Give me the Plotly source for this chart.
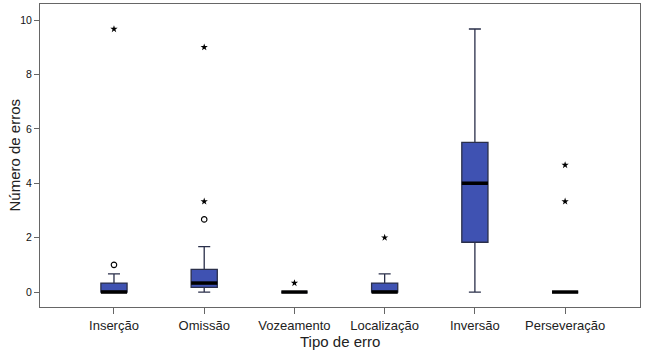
import plotly.graph_objects as go

categories = ["Inserção", "Omissão", "Vozeamento", "Localização", "Inversão", "Perseveração"]
lower_whisker = [0, 0, 0, 0, 0, 0]
q1 = [0, 0.17, 0, 0, 1.83, 0]
median = [0, 0.33, 0, 0, 4.0, 0]
q3 = [0.33, 0.83, 0, 0.33, 5.5, 0]
upper_whisker = [0.67, 1.67, 0, 0.67, 9.67, 0]
# mild outliers (circles) and extreme outliers (stars)
circle_outliers = [[1.0], [2.67], [], [], [], []]
star_outliers = [[9.67], [3.33, 9.0], [0.33], [2.0], [], [3.33, 4.67]]
y_ticks = [0, 2, 4, 6, 8, 10]

BOX_W = 0.29
fill = "#3f52b2"

fig = go.Figure()
xs = list(range(len(categories)))
fig.add_trace(go.Box(
    x=xs, q1=q1, median=median, q3=q3,
    lowerfence=lower_whisker, upperfence=upper_whisker,
    width=BOX_W, whiskerwidth=0.46,
    fillcolor=fill, line=dict(color="#2a2f4a", width=1.3),
    boxpoints=False, showlegend=False, hoverinfo="skip",
))

# thick median lines
mx, my = [], []
for i, m in enumerate(median):
    mx += [i - BOX_W / 2, i + BOX_W / 2, None]
    my += [m, m, None]
fig.add_trace(go.Scatter(x=mx, y=my, mode="lines",
                         line=dict(color="black", width=3.5),
                         showlegend=False, hoverinfo="skip"))

cx, cy, sx, sy = [], [], [], []
for i in xs:
    for v in circle_outliers[i]:
        cx.append(i); cy.append(v)
    for v in star_outliers[i]:
        sx.append(i); sy.append(v)
fig.add_trace(go.Scatter(x=cx, y=cy, mode="markers",
                         marker=dict(symbol="circle-open", size=5.5, color="black",
                                     line=dict(width=1.1)),
                         showlegend=False))
fig.add_trace(go.Scatter(x=sx, y=sy, mode="markers",
                         marker=dict(symbol="star", size=5.5, color="black",
                                     line=dict(width=0)),
                         showlegend=False))

font = "Liberation Sans, Arial, sans-serif"
fig.update_layout(
    width=646, height=353,
    margin=dict(l=40, r=6, t=4, b=46),
    paper_bgcolor="white", plot_bgcolor="white",
    font=dict(family=font, color="#222222", size=12),
    xaxis=dict(
        range=[-0.82, 5.83], tickvals=xs, ticktext=categories,
        showline=True, mirror=True, linecolor="#666666", linewidth=1,
        ticks="outside", ticklen=6, tickcolor="#666666",
        showgrid=False, zeroline=False,
        tickfont=dict(size=13),
        automargin=False,
    ),
    yaxis=dict(
        range=[-0.55, 10.59], tickvals=y_ticks,
        showline=True, mirror=True, linecolor="#666666", linewidth=1,
        ticks="outside", ticklen=5, tickcolor="#666666",
        showgrid=False, zeroline=False,
        tickfont=dict(size=10.5, color="#111111"),
        automargin=False,
    ),
    annotations=[
        dict(text="Tipo de erro", x=0.5, xref="paper",
             y=-(341 - 307) / (307 - 4), yref="paper", yanchor="middle",
             showarrow=False, font=dict(size=15)),
        dict(text="Número de erros", x=-(40 - 14) / 600, xref="paper", xanchor="center",
             y=0.5, yref="paper",
             showarrow=False, textangle=-90, font=dict(size=15)),
    ],
)

fig.write_html("out.html", config={"displayModeBar": False},
               post_script="document.body.style.margin='0';document.body.style.padding='0';")
